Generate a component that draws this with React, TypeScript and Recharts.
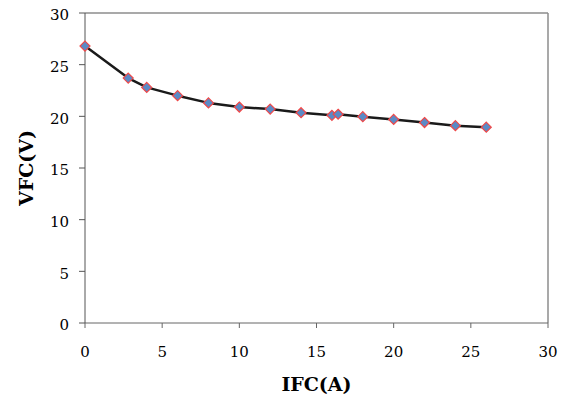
import React from 'react';
import { LineChart, Line, XAxis, YAxis, ReferenceLine } from 'recharts';

const ifc = [0, 2.8, 4, 6, 8, 10, 12, 14, 16, 16.4, 18, 20, 22, 24, 26];
const vfc = [26.8, 23.7, 22.8, 22.0, 21.3, 20.9, 20.7, 20.35, 20.1, 20.2, 19.97, 19.7, 19.4, 19.1, 18.95];
const xTicks = [0, 5, 10, 15, 20, 25, 30];
const yTicks = [0, 5, 10, 15, 20, 25, 30];

const data = ifc.map((x, i) => ({ x, y: vfc[i] }));

const FONT = '"DejaVu Serif", serif';

const Diamond = (props: any) => {
  const { cx, cy } = props;
  if (cx == null || cy == null) return null;
  const r = 5;
  return (
    <path
      d={`M${cx},${cy - r}L${cx + r},${cy}L${cx},${cy + r}L${cx - r},${cy}Z`}
      fill="#5B8AC6"
      stroke="#F04848"
      strokeWidth={1.2}
    />
  );
};

const YTitle = (props: any) => {
  const vb = props.viewBox || {};
  const cx = vb.x + 26;
  const cy = vb.y + vb.height / 2;
  return (
    <text
      x={cx}
      y={cy}
      transform={`rotate(-90 ${cx} ${cy})`}
      textAnchor="middle"
      dominantBaseline="central"
      fontFamily={FONT}
      fontWeight="bold"
      fontSize={19}
      fill="#000"
    >
      VFC(V)
    </text>
  );
};

const XTitle = (props: any) => {
  const vb = props.viewBox || {};
  const cx = vb.x + vb.width / 2;
  return (
    <text
      x={cx}
      y={vb.y + 68}
      textAnchor="middle"
      fontFamily={FONT}
      fontWeight="bold"
      fontSize={19}
      fill="#000"
    >
      IFC(A)
    </text>
  );
};

export default function App() {
  return (
    <div style={{ position: 'absolute', left: 0, top: 0, background: '#fff' }}>
      <LineChart
        width={566}
        height={399}
        data={data}
        margin={{ top: 13, right: 18, bottom: 0, left: 0 }}
      >
        <XAxis
          dataKey="x"
          type="number"
          domain={[0, 30]}
          ticks={xTicks}
          interval={0}
          height={76}
          tickSize={5}
          tickMargin={18}
          stroke="#666"
          tick={{ fill: '#000', fontFamily: FONT, fontSize: 15 }}
          label={<XTitle />}
        />
        <YAxis
          type="number"
          domain={[0, 30]}
          ticks={yTicks}
          interval={0}
          width={85}
          tickSize={6}
          tickMargin={10}
          stroke="#555"
          tick={{ fill: '#000', fontFamily: FONT, fontSize: 15, dy: 2 }}
          label={<YTitle />}
        />
        <ReferenceLine y={30} stroke="#8c8c8c" strokeWidth={1.5} ifOverflow="visible" />
        <ReferenceLine x={30} stroke="#8c8c8c" strokeWidth={1.5} ifOverflow="visible" />
        <Line
          type="linear"
          dataKey="y"
          stroke="#1a1a1a"
          strokeWidth={2.5}
          strokeLinejoin="round"
          dot={<Diamond />}
          activeDot={false}
          isAnimationActive={false}
        />
      </LineChart>
    </div>
  );
}
